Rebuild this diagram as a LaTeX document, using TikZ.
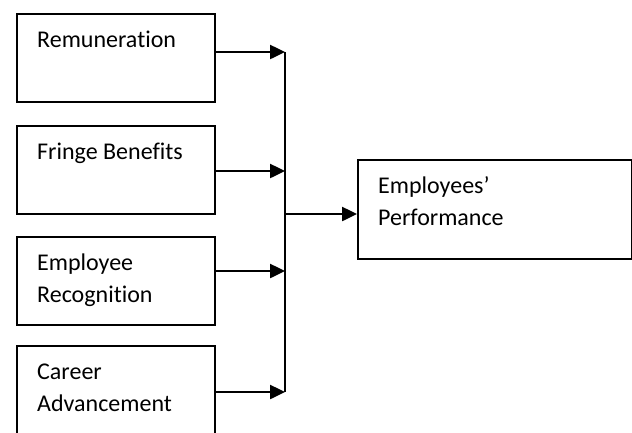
\documentclass[tikz,border=0pt]{standalone}
\usepackage{fontspec}
\setmainfont{Carlito}[Ligatures={NoCommon}]
\usetikzlibrary{arrows.meta}
\tikzset{
	box/.style={draw, line width=1.5pt, minimum width=198pt, minimum height=88pt, inner sep=0pt, anchor=north west},
	boxtext/.style={anchor=base west, inner sep=0pt, xshift=21pt, yshift=-34pt, font=\fontsize{24}{32}\selectfont},
	feed/.style={line width=2.5pt, -{Triangle[length=15pt, width=14pt]}}
}
\begin{document}
\begin{tikzpicture}[x=1pt,y=-1pt]
	\useasboundingbox (0,0) rectangle (632,432);
	
	%factors
	\node[box, label={[boxtext]north west:\parbox[t]{170pt}{Remuneration}}] (rem) at (16,13) {};
	\node[box, label={[boxtext]north west:\parbox[t]{170pt}{Fringe Benefits}}] (fri) at (16,125) {};
	\node[box, label={[boxtext]north west:\parbox[t]{170pt}{Employee\\Recognition}}] (rec) at (16,236) {};
	\node[box, label={[boxtext]north west:\parbox[t]{170pt}{Career\\Advancement}}] (car) at (16,345) {};
	%outcome
	\node[box, minimum width=274pt, minimum height=99pt, label={[boxtext]north west:\parbox[t]{230pt}{Employees’\\Performance}}] (perf) at (357,159) {};
	
	%bus
	\coordinate (j1) at (285,52);
	\coordinate (j2) at (285,171);
	\coordinate (j3) at (285,271);
	\coordinate (j4) at (285,392);
	\coordinate (jout) at (285,214);
	\draw[line width=1.5pt] (j1) -- (j4);
	
	%arrows
	\draw[feed] (rem.east |- j1) -- (j1);
	\draw[feed] (fri.east |- j2) -- (j2);
	\draw[feed] (rec.east |- j3) -- (j3);
	\draw[feed] (car.east |- j4) -- (j4);
	\draw[feed] (jout) -- (jout -| perf.west);
\end{tikzpicture}
\end{document}
